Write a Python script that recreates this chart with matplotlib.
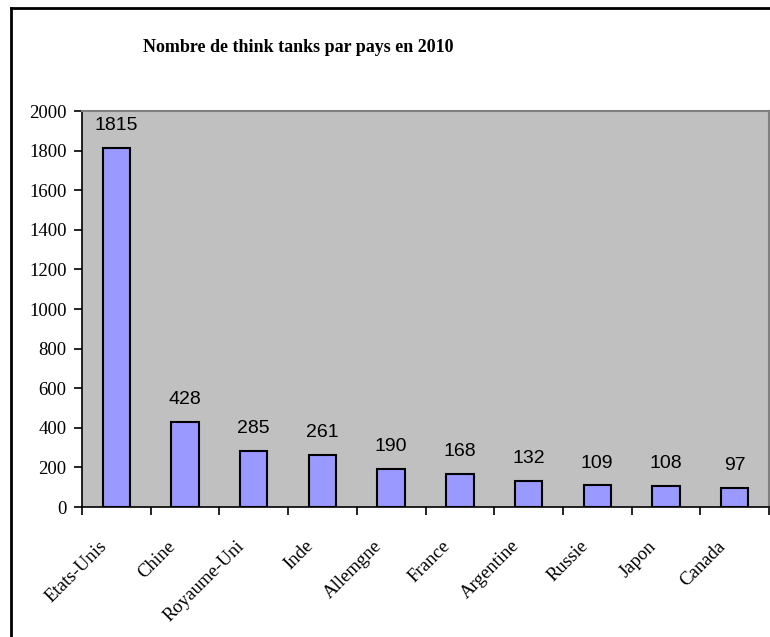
import numpy as np
import matplotlib
matplotlib.use("Agg")
import matplotlib.pyplot as plt
from matplotlib.lines import Line2D
from matplotlib.transforms import ScaledTranslation

pays = ["Etats-Unis", "Chine", "Royaume-Uni", "Inde", "Allemgne",
        "France", "Argentine", "Russie", "Japon", "Canada"]
nombre = [1815, 428, 285, 261, 190, 168, 132, 109, 108, 97]
yticks = list(range(0, 2001, 200))

serif = "Liberation Serif"
sans = "Liberation Sans"

fig = plt.figure(figsize=(7.7, 6.37), dpi=100)
ax = fig.add_axes([82 / 770, 1 - 507 / 637, (769 - 82) / 770, (507 - 111) / 637])
ax.set_facecolor("#C0C0C0")

x = np.arange(len(pays))
bars = ax.bar(x, nombre, width=0.4, color="#9999FF", edgecolor="black", linewidth=1.5, zorder=3)

for xi, v in zip(x, nombre):
    ax.annotate(str(v), (xi, v), xytext=(0, 10), textcoords="offset points",
                ha="center", va="bottom", fontsize=14, family=sans)

ax.set_xlim(-0.5, len(pays) - 0.5)
ax.set_ylim(0, 2000)
ax.set_yticks(yticks)
ax.set_yticklabels([str(t) for t in yticks], family=serif, fontsize=13.5)
ax.tick_params(axis="y", length=6, width=1.2, direction="out", pad=5)

# ticks between categories, labels at centres
ax.set_xticks(np.arange(-0.5, len(pays), 1.0))
ax.set_xticklabels([])
ax.set_xticks(x, minor=True)
ax.set_xticklabels(pays, minor=True, rotation=45, ha="right", va="top",
                   rotation_mode="anchor", family=serif, fontsize=13.5)
ax.tick_params(axis="x", which="major", length=6, width=1.2, direction="out")
ax.tick_params(axis="x", which="minor", length=0, pad=22)
shift = ScaledTranslation(-18 / 100, 0, fig.dpi_scale_trans)
for lab in ax.get_xticklabels(minor=True):
    lab.set_transform(lab.get_transform() + shift)

for side in ["left", "bottom"]:
    ax.spines[side].set_color("black")
    ax.spines[side].set_linewidth(1.2)
for side in ["top", "right"]:
    ax.spines[side].set_color("#808080")
    ax.spines[side].set_linewidth(1.5)

fig.text(298 / 770, 1 - 48 / 637, "Nombre de think tanks par pays en 2010",
         ha="center", va="center", fontsize=13, fontweight="bold", family=serif)

# chart frame (cropped on right and bottom)
fig.add_artist(Line2D([11 / 770, 11 / 770], [0, 1 - 8 / 637], transform=fig.transFigure,
                      color="black", linewidth=2))
fig.add_artist(Line2D([11 / 770, 1], [1 - 8 / 637, 1 - 8 / 637], transform=fig.transFigure,
                      color="black", linewidth=2))

fig.savefig("out.png", dpi=100)
